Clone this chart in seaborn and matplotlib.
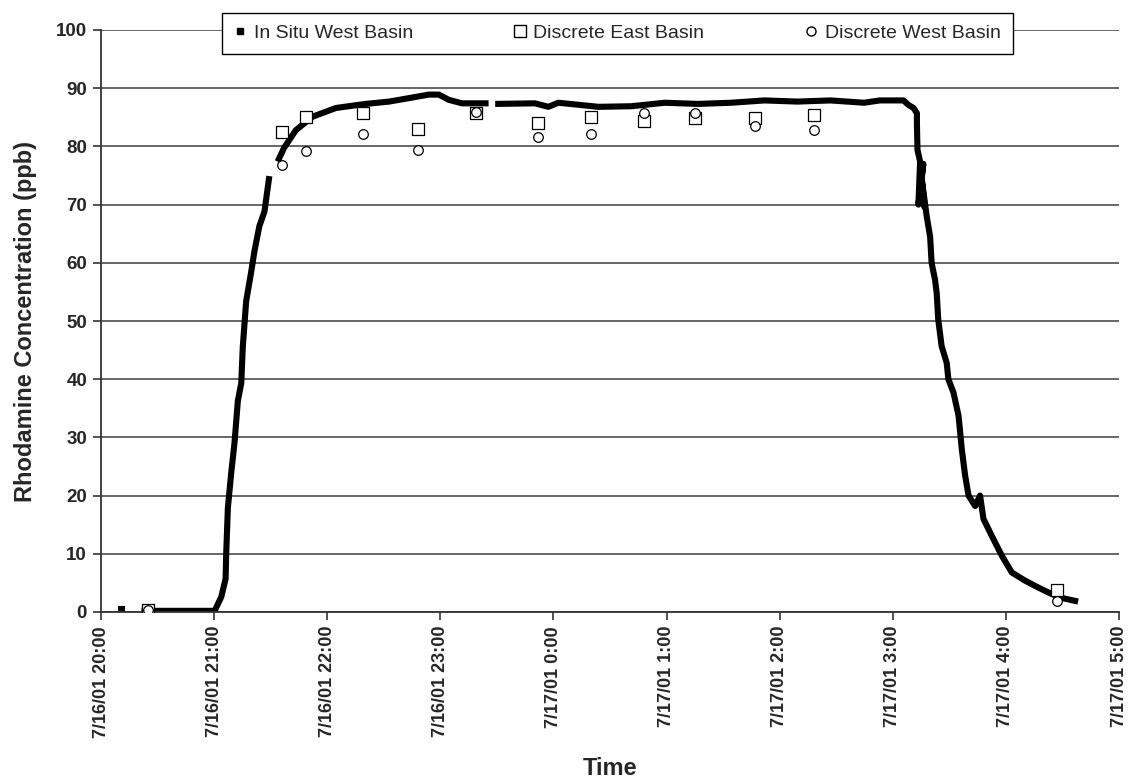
import numpy as np
import pandas as pd
import matplotlib
matplotlib.use("Agg")
import matplotlib.pyplot as plt
from matplotlib.lines import Line2D
import seaborn as sns

# ---------------- data ----------------
start_time = "2001-07-16 20:00"

# In situ west basin: minutes after 20:00 and concentration (None = gap in record)
insitu_minutes = [9.0, 12.7, None,
                  21.5, 40.0, 60.3, 63.8, 66.1, 66.4, 67.3, 69.1, 70.8, 72.6, 74.4,
                  75.2, 77.0, 79.6, 81.4, 84.0, 86.7, 89.3, None,
                  93.7, 97.2, 103.4, 112.2, 124.6, 140.4, 152.8, 163.4, 173.9, 179.2,
                  184.5, 191.5, 202.1, 205.6, None,
                  209.1, 230.2, 237.3, 242.6, 254.8, 263.8, 281.3, 299.0, 316.6, 334.2,
                  351.9, 369.5, 386.9, 395.9, 404.7, 413.2, 425.7, 428.4, 431.0, 432.8,
                  432.8, 433.1, 434.5, 433.6, 436.2, 434.4, 436.8, 435.4, 438.0, 439.8,
                  440.6, 442.4, 443.3, 444.1, 445.9, 448.6, 449.5, 452.2, 454.9, 456.6,
                  458.4, 460.2, 463.7, 466.3, 468.1, 472.5, 477.8, 483.1, 490.1, 497.2,
                  504.2, 511.2, 518.3]
insitu_ppb = [0.5, 0.5, None,
              0.2, 0.2, 0.2, 2.6, 5.7, 9.9, 17.9, 24.0, 29.0, 36.3, 39.3,
              45.5, 53.4, 58.3, 62.0, 66.3, 68.8, 74.9, None,
              77.4, 79.8, 82.8, 85.1, 86.6, 87.3, 87.7, 88.3, 88.9, 88.9,
              88.0, 87.4, 87.4, 87.4, None,
              87.3, 87.4, 86.8, 87.5, 87.1, 86.8, 86.9, 87.5, 87.3, 87.5,
              87.9, 87.7, 87.9, 87.7, 87.5, 87.9, 87.9, 87.1, 86.6, 85.7,
              84.0, 79.4, 77.4, 70.0, 77.0, 72.0, 69.6, 74.3, 68.0, 64.5,
              60.0, 57.1, 54.8, 50.3, 45.7, 42.8, 40.0, 37.7, 33.7, 28.0,
              23.4, 20.0, 18.2, 20.0, 16.0, 13.1, 9.7, 6.8, 5.4, 4.2,
              3.1, 2.3, 1.8]

# Discrete samples
discrete_times = ["2001-07-16 20:25", "2001-07-16 21:36", "2001-07-16 21:49",
                  "2001-07-16 22:19", "2001-07-16 22:48", "2001-07-16 23:19",
                  "2001-07-16 23:52", "2001-07-17 00:20", "2001-07-17 00:48",
                  "2001-07-17 01:15", "2001-07-17 01:47", "2001-07-17 02:18",
                  "2001-07-17 04:27"]
east_ppb = [0.3, 82.4, 85.0, 85.7, 83.0, 85.8, 84.1, 85.0, 84.3, 84.9, 84.8, 85.4, 3.8]
west_ppb = [0.3, 76.8, 79.2, 82.1, 79.4, 85.9, 81.7, 82.1, 85.7, 85.7, 83.5, 82.8, 1.9]

tick_labels = ["7/16/01 20:00", "7/16/01 21:00", "7/16/01 22:00", "7/16/01 23:00",
               "7/17/01 0:00", "7/17/01 1:00", "7/17/01 2:00", "7/17/01 3:00",
               "7/17/01 4:00", "7/17/01 5:00"]
y_ticks = [0, 10, 20, 30, 40, 50, 60, 70, 80, 90, 100]

series_names = ["In Situ West Basin", "Discrete East Basin", "Discrete West Basin"]

# ---------------- build frames ----------------
t0 = pd.Timestamp(start_time)
ins = pd.DataFrame({"minutes": insitu_minutes, "ppb": insitu_ppb}, dtype=float)
ins["seg"] = ins["ppb"].isna().cumsum()
ins = ins.dropna().reset_index(drop=True)
ins["time"] = t0 + pd.to_timedelta(ins["minutes"], unit="min")

disc = pd.DataFrame({"time": pd.to_datetime(discrete_times),
                     "east": east_ppb, "west": west_ppb})

tick_times = [t0 + pd.Timedelta(hours=h) for h in range(len(tick_labels))]

# ---------------- style ----------------
sns.set_style("white")
plt.rcParams["font.family"] = ["Liberation Sans", "DejaVu Sans"]

W, H = 1129, 778
fig = plt.figure(figsize=(W / 100, H / 100), dpi=100)
left_px, right_px, top_px, bottom_px = 101, 1119, 30, 612
ax = fig.add_axes([left_px / W, 1 - bottom_px / H,
                   (right_px - left_px) / W, (bottom_px - top_px) / H])

sns.lineplot(data=ins, x="time", y="ppb", units="seg", estimator=None, sort=False,
             color="black", lw=4.4, solid_capstyle="butt", ax=ax, legend=False)
sns.scatterplot(data=disc, x="time", y="east", marker="s", s=70, color="white",
                edgecolor="black", linewidth=0.9, ax=ax, legend=False, zorder=5)
sns.scatterplot(data=disc, x="time", y="west", marker="o", s=48, color="white",
                edgecolor="black", linewidth=0.9, ax=ax, legend=False, zorder=6)

ax.set_xlim(tick_times[0], tick_times[-1])
ax.set_ylim(y_ticks[0], y_ticks[-1])
ax.set_xticks(tick_times)
ax.set_xticklabels(tick_labels, rotation=90, fontsize=13, fontweight="bold")
ax.set_yticks(y_ticks)
ax.set_yticklabels([str(v) for v in y_ticks], fontsize=13.5, fontweight="bold")
ax.tick_params(axis="both", direction="out", length=6, width=1.2, color="#333333",
               pad=4, bottom=True, left=True)

ax.yaxis.grid(True, color="#5a5a5a", lw=1.3)
ax.xaxis.grid(False)
ax.set_axisbelow(True)
for side in ["top", "right"]:
    ax.spines[side].set_visible(False)
for side in ["left", "bottom"]:
    ax.spines[side].set_color("#333333")
    ax.spines[side].set_linewidth(1.3)

ax.set_xlabel("Time", fontsize=17, fontweight="bold", labelpad=14)
ax.set_ylabel("Rhodamine Concentration (ppb)", fontsize=17, fontweight="bold", labelpad=14)

handles = [
    Line2D([], [], ls="", marker="s", color="black", markersize=4.5),
    Line2D([], [], ls="", marker="s", markerfacecolor="white", markeredgecolor="black",
           markersize=8, markeredgewidth=1.0),
    Line2D([], [], ls="", marker="o", markerfacecolor="white", markeredgecolor="black",
           markersize=6.5, markeredgewidth=1.0),
]
leg = fig.legend(handles, series_names, ncol=3, loc="center",
                 bbox_to_anchor=(617.5 / W, 1 - 33.5 / H),
                 bbox_transform=fig.transFigure, fontsize=14, frameon=True,
                 fancybox=False, framealpha=1, edgecolor="black",
                 handlelength=0.6, handletextpad=0.4, columnspacing=5.2,
                 borderpad=0.6)
leg.get_frame().set_linewidth(1.0)

fig.savefig("out.png", dpi=100)
